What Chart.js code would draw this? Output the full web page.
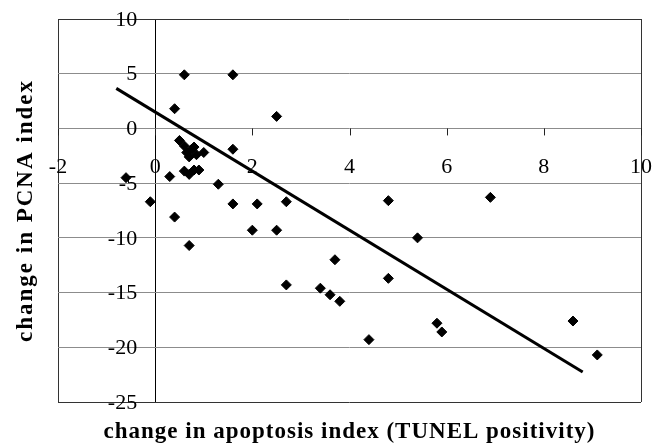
<!DOCTYPE html>
<html>
<head>
<meta charset="utf-8">
<script src="https://cdn.jsdelivr.net/npm/chart.js@4.4.0/dist/chart.umd.min.js"></script>
<style>
  html, body { margin: 0; padding: 0; background: #fff; }
  #wrap { width: 665px; height: 443px; }
</style>
</head>
<body>
<div id="wrap"><canvas id="scatterChart" width="665" height="443"></canvas></div>
<script>
// values
const apoptosisChange = [0.6, 1.6, 0.4, 2.5, 0.5, 0.6, 0.75, 0.8, 0.7, 1.0, 0.65, 0.85, 1.6,
    0.6, 0.7, 0.8, 0.9, 0.3, -0.6, 1.3, -0.1, 1.6, 2.1, 2.7, 0.4, 2.0, 2.5, 0.7, 2.7,
    4.8, 6.9, 5.4, 3.7, 4.8, 3.4, 3.6, 3.8, 4.4, 5.8, 5.9, 8.6, 9.1];
const pcnaChange = [4.9, 4.9, 1.8, 1.1, -1.1, -1.6, -1.9, -1.7, -2.6, -2.2, -2.2, -2.4, -1.9,
    -3.9, -4.2, -3.8, -3.8, -4.4, -4.5, -5.1, -6.7, -6.9, -6.9, -6.7, -8.1, -9.3, -9.3, -10.7, -14.3,
    -6.6, -6.3, -10.0, -12.0, -13.7, -14.6, -15.2, -15.8, -19.3, -17.8, -18.6, -17.6, -20.7];

// linear trend line end points
const trendX = [-0.8, 8.8];
const trendY = [3.66, -22.26];

const xTickLabels = ['-2', '0', '2', '4', '6', '8', '10'];
const yTickLabels = ['10', '5', '0', '-5', '-10', '-15', '-20', '-25'];
const xTitle = 'change in apoptosis index (TUNEL positivity)';
const yTitle = 'change in PCNA index';

const points = apoptosisChange.map((x, i) => ({ x: x, y: pcnaChange[i] }));
const trend = trendX.map((x, i) => ({ x: x, y: trendY[i] }));

// draws the Excel-style labels along the axes that cross at zero
const axisText = {
    id: 'axisText',
    afterDraw(chart) {
        const c = chart.ctx;
        const xs = chart.scales.x;
        const ys = chart.scales.y;
        const x0 = xs.getPixelForValue(0);
        const y0 = ys.getPixelForValue(0);
        c.save();
        c.fillStyle = '#000';
        c.strokeStyle = '#222';
        c.lineWidth = 1;
        // small tick marks below the horizontal axis
        xTickLabels.forEach(t => {
            const px = Math.round(xs.getPixelForValue(Number(t))) + 0.5;
            c.beginPath();
            c.moveTo(px, y0);
            c.lineTo(px, y0 + 7);
            c.stroke();
        });
        c.font = '22px "Liberation Serif", "Times New Roman", serif';
        c.textAlign = 'center';
        c.textBaseline = 'alphabetic';
        xTickLabels.forEach(t => {
            c.fillText(t, xs.getPixelForValue(Number(t)), y0 + 45);
        });
        c.textAlign = 'right';
        c.textBaseline = 'middle';
        yTickLabels.forEach(t => {
            c.fillText(t, x0 - 18, ys.getPixelForValue(Number(t)) + 1);
        });
        // axis titles
        c.font = 'bold 23px "Liberation Serif", "Times New Roman", serif';
        c.textAlign = 'center';
        c.textBaseline = 'alphabetic';
        c.letterSpacing = '1px';
        c.fillText(xTitle, (chart.chartArea.left + chart.chartArea.right) / 2, 438);
        c.letterSpacing = '2px';
        c.translate(32, (chart.chartArea.top + chart.chartArea.bottom) / 2);
        c.rotate(-Math.PI / 2);
        c.fillText(yTitle, 0, 0);
        c.restore();
    }
};

const ctx = document.getElementById('scatterChart').getContext('2d');
const chart = new Chart(ctx, {
    type: 'scatter',
    data: {
        datasets: [{
            label: 'PCNA vs apoptosis',
            data: points,
            pointStyle: 'rectRot',
            pointRadius: 5,
            pointBorderWidth: 1,
            backgroundColor: '#000',
            borderColor: '#000',
            order: 2
        }, {
            label: 'trend',
            data: trend,
            showLine: true,
            borderColor: '#000',
            borderWidth: 3,
            pointRadius: 0,
            fill: false,
            order: 1
        }]
    },
    options: {
        responsive: false,
        animation: false,
        layout: { padding: { left: 58, right: 24, top: 19, bottom: 41 } },
        plugins: {
            legend: { display: false },
            tooltip: { enabled: false }
        },
        scales: {
            x: {
                type: 'linear',
                min: -2,
                max: 10,
                ticks: { stepSize: 2, display: false },
                border: { display: false },
                grid: {
                    drawTicks: false,
                    color: (c) => {
                        const v = c.tick ? c.tick.value : null;
                        if (v === 0) return '#000';
                        if (v === -2 || v === 10) return '#333';
                        return 'rgba(0,0,0,0)';
                    }
                }
            },
            y: {
                type: 'linear',
                min: -25,
                max: 10,
                ticks: { stepSize: 5, display: false },
                border: { display: false },
                grid: {
                    drawTicks: false,
                    color: (c) => {
                        const v = c.tick ? c.tick.value : null;
                        if (v === -25 || v === 10) return '#333';
                        return '#8c8c8c';
                    }
                }
            }
        }
    },
    plugins: [axisText]
});
</script>
</body>
</html>
